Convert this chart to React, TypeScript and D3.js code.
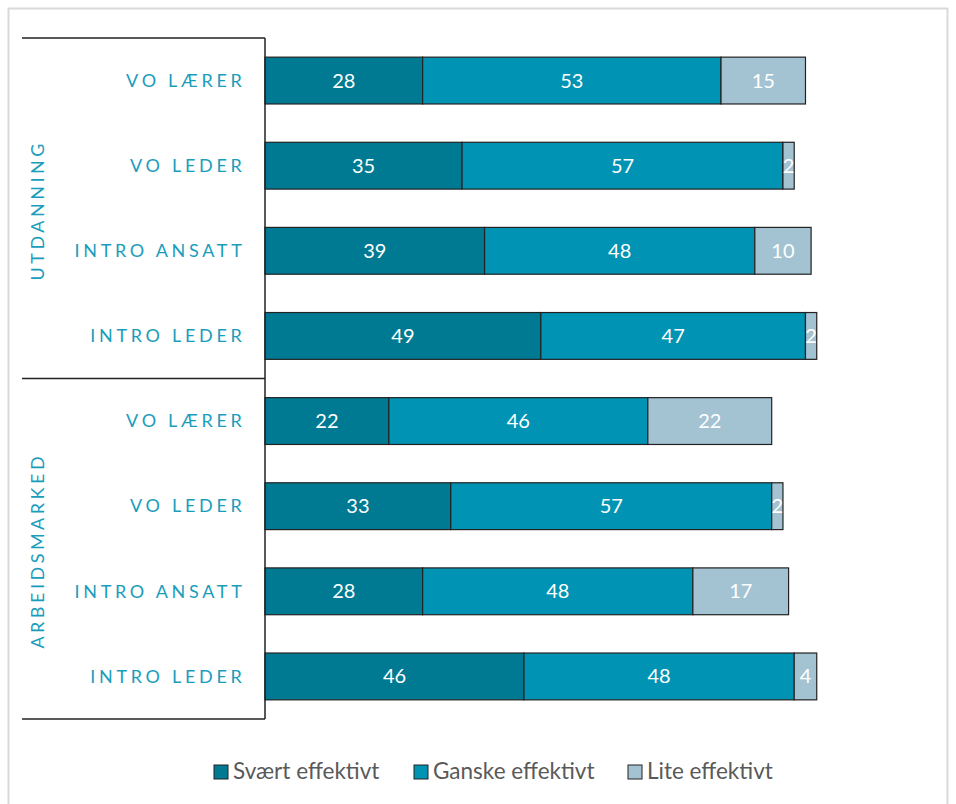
import React from "react";
import * as d3 from "d3";

const groups = ["UTDANNING", "ARBEIDSMARKED"];
const categories = ["VO LÆRER", "VO LEDER", "INTRO ANSATT", "INTRO LEDER"];
const seriesNames = ["Svært effektivt", "Ganske effektivt", "Lite effektivt"];
const svaert = [28, 35, 39, 49, 22, 33, 28, 46];
const ganske = [53, 57, 48, 47, 46, 57, 48, 48];
const lite = [15, 2, 10, 2, 22, 2, 17, 4];
const colors = ["#007a93", "#0093b3", "#a3c3d2"];

const W = 956;
const H = 804;

export default function App() {
  const rows = groups.flatMap((g) => categories.map((c) => `${g}|${c}`));
  const values = [svaert, ganske, lite];
  const x = d3.scaleLinear().domain([0, 100]).range([265, 828]);
  const y = d3
    .scaleBand<string>()
    .domain(rows)
    .range([38, 719])
    .paddingInner(0.45)
    .paddingOuter(0.225);
  const step = y.step();
  const stackData = rows.map((r, i) => ({ key: r, s0: svaert[i], s1: ganske[i], s2: lite[i] }));
  const stacked = d3.stack<any>().keys(["s0", "s1", "s2"])(stackData);
  const groupTop = (gi: number) => 38 + gi * 4 * step;
  const legendX = [214, 414, 628];
  const font = "'Source Sans Pro', Lato, 'Open Sans', sans-serif";

  return (
    <svg
      width={W}
      height={H}
      style={{ position: "absolute", left: 0, top: 0, fontFamily: font }}
    >
      <rect x={8.5} y={8.5} width={939} height={810} fill="#fff" stroke="#d9d9d9" strokeWidth={2} />
      {stacked.map((layer, si) =>
        layer.map((d, i) => {
          const x0 = x(d[0]);
          const x1 = x(d[1]);
          const yy = y(rows[i])!;
          const v = values[si][i];
          return (
            <g key={`${si}-${i}`}>
              <rect
                x={x0}
                y={yy}
                width={x1 - x0}
                height={y.bandwidth()}
                fill={colors[si]}
                stroke="#222"
                strokeWidth={1.2}
              />
              <text
                x={(x0 + x1) / 2}
                y={yy + y.bandwidth() / 2}
                dy="0.35em"
                textAnchor="middle"
                fill="#fff"
                fontSize={20}
              >
                {v}
              </text>
            </g>
          );
        })
      )}
      {rows.map((r, i) => (
        <text
          key={r}
          x={245.5}
          y={y(r)! + y.bandwidth() / 2}
          dy="0.35em"
          textAnchor="end"
          fill="#1a9dbb"
          fontSize={18}
          letterSpacing={3.7}
        >
          {r.split("|")[1]}
        </text>
      ))}
      {groups.map((g, gi) => {
        const cy = groupTop(gi) + 2 * step;
        return (
          <text
            key={g}
            transform={`translate(44,${cy + 2}) rotate(-90)`}
            textAnchor="middle"
            fill="#1a9dbb"
            fontSize={18}
            letterSpacing={3.5}
          >
            {g}
          </text>
        );
      })}
      {[0, 1, 2].map((k) => (
        <line
          key={k}
          x1={22}
          x2={265}
          y1={groupTop(k)}
          y2={groupTop(k)}
          stroke="#222"
          strokeWidth={1.5}
        />
      ))}
      <line x1={265} x2={265} y1={38} y2={719} stroke="#222" strokeWidth={1.5} />
      {seriesNames.map((n, i) => (
        <g key={n}>
          <rect
            x={legendX[i]}
            y={765}
            width={14}
            height={14}
            fill={colors[i]}
            stroke="#222"
            strokeWidth={1}
          />
          <text x={legendX[i] + 19} y={771} dy="0.35em" fill="#595959" fontSize={22.5}>
            {n}
          </text>
        </g>
      ))}
    </svg>
  );
}
